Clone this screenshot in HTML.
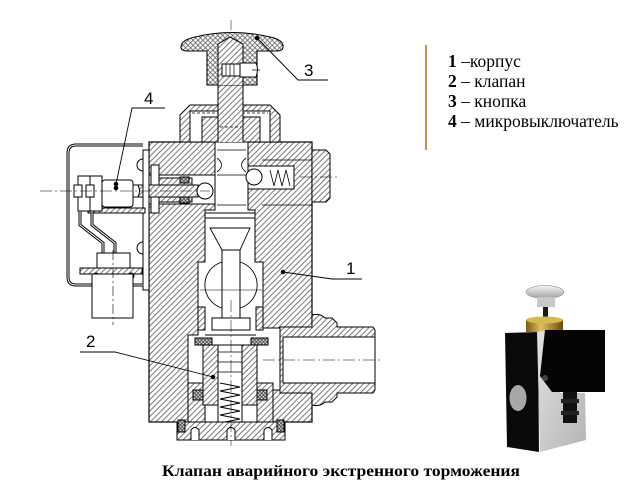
<!DOCTYPE html>
<html><head><meta charset="utf-8"><style>
html,body{margin:0;padding:0;background:#fff;width:624px;height:489px;overflow:hidden}
svg{display:block}
</style></head><body>
<svg width="624" height="489" viewBox="0 0 624 489" xmlns="http://www.w3.org/2000/svg">
<defs>
<pattern id="h" width="4" height="4" patternUnits="userSpaceOnUse" patternTransform="rotate(45)"><rect width="4" height="4" fill="#fff"/><line x1="0.5" y1="0" x2="0.5" y2="4" stroke="#555" stroke-width="0.8"/></pattern>
<pattern id="x" width="3.5" height="3.5" patternUnits="userSpaceOnUse" patternTransform="rotate(45)"><rect width="3.5" height="3.5" fill="#fff"/><path d="M0.5 0V3.5M0 0.5H3.5" stroke="#555" stroke-width="0.7"/></pattern>
<pattern id="xd" width="2.5" height="2.5" patternUnits="userSpaceOnUse" patternTransform="rotate(45)"><rect width="2.5" height="2.5" fill="#ddd"/><path d="M0.5 0V2.5M0 0.5H2.5" stroke="#333" stroke-width="0.7"/></pattern>
<linearGradient id="gface" x1="0" y1="0" x2="1" y2="1"><stop offset="0" stop-color="#e2e2e2"/><stop offset="1" stop-color="#b4b4b4"/></linearGradient>
<linearGradient id="brass" x1="0" y1="0" x2="1" y2="0"><stop offset="0" stop-color="#7a5a10"/><stop offset="0.4" stop-color="#e0c060"/><stop offset="1" stop-color="#6a4a08"/></linearGradient>
<linearGradient id="btn" x1="0" y1="0" x2="0" y2="1"><stop offset="0" stop-color="#f6f6f6"/><stop offset="1" stop-color="#a0a0a0"/></linearGradient>
</defs>

<g stroke="#000" stroke-width="1" fill="none">
<!-- main body -->
<rect x="149" y="142" width="163" height="280" fill="url(#h)" stroke-width="1.2"/>
<path d="M312 150H326L330 154V198L326 202H312Z" fill="url(#h)"/>
<!-- central cavity -->
<path d="M215 142H248V210H255V262H263V328H312V390H273V422H188V335H198V262H205V210H215Z" fill="#fff"/>
<!-- left horizontal bore -->
<rect x="149" y="175" width="66" height="29" fill="#fff"/>
<!-- right horizontal bore -->
<rect x="248" y="166" width="46" height="23" fill="#fff"/>
<path d="M270 170l4 16l4-16l4 16l4-16l4 16" stroke-width="0.8"/>
<circle cx="254" cy="177" r="8" fill="#fff"/>

<!-- left plunger assembly -->
<rect x="151" y="165" width="8" height="48" fill="#fff"/>
<path d="M159 178H192V202H159Z" fill="url(#h)"/>
<rect x="180" y="177" width="9" height="6" fill="url(#xd)"/>
<rect x="180" y="197" width="9" height="6" fill="url(#xd)"/>
<path d="M138 185H198V197H138Q134 191 138 185Z" fill="url(#h)"/>
<circle cx="205" cy="191" r="8" fill="#fff"/>

<!-- spool / stem in bore -->
<path d="M217 150H246M217 158Q226 165 217 172M246 158Q237 165 246 172M217 175H246M217 205H246" stroke-width="0.8"/>
<path d="M205 213H255M205 218H255M210 228H250L240 250H222Z" fill="#fff" stroke-width="0.9"/>
<!-- ball chamber -->
<path d="M222 262A24 24 0 0 0 222 308M240 262A24 24 0 0 1 240 308" stroke-width="0.9"/>
<rect x="222" y="250" width="18" height="70" fill="#fff"/>
<path d="M200 290H262" stroke-width="0.6"/>
<rect x="198" y="307" width="7" height="23" fill="url(#h)"/>
<rect x="256" y="307" width="7" height="23" fill="url(#h)"/>
<path d="M212 318H250V330H212Z" fill="#fff"/>

<!-- valve (part 2) -->
<rect x="195" y="338" width="17" height="7" fill="url(#xd)"/>
<rect x="251" y="338" width="17" height="7" fill="url(#xd)"/>
<path d="M205 335H256" />
<rect x="188" y="383" width="85" height="39" fill="url(#h)"/>
<path d="M203 345H257V405H203Z" fill="url(#h)"/>
<rect x="205" y="405" width="52" height="17" fill="#fff"/>
<rect x="218" y="345" width="24" height="80" fill="#fff"/>
<path d="M218 352H242M218 362H242M218 372H242" stroke-width="0.7"/>
<path d="M220 383l20 4l-20 4l20 4l-20 4l20 4l-20 4l20 4l-20 4l20 4l-20 4" stroke-width="0.9"/>
<rect x="193" y="390" width="10" height="10" fill="url(#xd)"/>
<rect x="257" y="390" width="10" height="10" fill="url(#xd)"/>
<!-- bottom cap -->
<rect x="177" y="422" width="108" height="18" fill="url(#h)"/>
<rect x="178" y="420" width="7" height="12" fill="url(#xd)"/>
<rect x="277" y="420" width="7" height="12" fill="url(#xd)"/>
<path d="M191 440V430Q195 425 199 430V440M227 440V430Q231 425 235 430V440M264 440V430Q268 425 272 430V440" fill="#fff"/>

<!-- fitting -->
<path d="M280 327H312V315Q320 313 325 318H332L337 323V327H373L375 330V390L373 393H337V397L332 402H325Q320 407 312 405V393H280Z" fill="url(#h)"/>
<rect x="283" y="337" width="92" height="46" fill="#fff"/>
<path d="M263 360H380" stroke-width="0.6" stroke-dasharray="12 3 2 3"/>

<!-- right plug body details -->
<path d="M262 160H312M262 205H312" stroke-width="0.8"/>

<!-- cap nut -->
<path d="M180 142V115L190 105H270L280 115V142Z" fill="url(#h)"/>
<rect x="190" y="111" width="80" height="31" fill="#fff"/>
<rect x="202" y="117" width="58" height="25" fill="url(#h)"/>
<path d="M192 113H268" stroke-width="0.7" stroke-dasharray="3 2"/>
<!-- stem -->
<path d="M218 142V44L230 37L243 44V142" fill="url(#h)"/>
<path d="M220 127H241" stroke-width="0.7" stroke-dasharray="3 2"/>

<!-- knob -->
<path d="M181 47Q181 40 195 37Q232 28 270 37Q284 40 283 47Q283 51 276 51H257V85H207V51H188Q181 51 181 47Z" fill="url(#x)" stroke-width="1.1"/>
<path d="M218 85V44L230 37L243 44V85" fill="url(#h)"/>
<rect x="222" y="64" width="18" height="12" fill="#fff"/>
<path d="M240 63H256Q259 69 256 77H240Z" fill="#fff"/>
<path d="M226 64V76M230 64V76M234 64V76M252 70H260" stroke-width="0.7"/>

<!-- body plate and screws -->
<rect x="143" y="150" width="6" height="140" fill="#fff"/>
<path d="M143 159A6 6 0 0 0 143 171Z" fill="#fff"/>
<path d="M143 242A6 6 0 0 0 143 254Z" fill="#fff"/>

<!-- bracket -->
<path d="M143 145H76Q68 145 68 153V277Q68 285 76 285H92M133 285H143" stroke-width="3"/>
<path d="M143 145H76Q68 145 68 153V277Q68 285 76 285H92M133 285H143" stroke="#fff" stroke-width="1"/>

<!-- microswitch -->
<path d="M88 208H145V213H88Z" fill="url(#h)"/>
<rect x="102" y="180" width="31" height="27" rx="3" fill="#fff"/>
<circle cx="116" cy="188" r="1.8" fill="#000"/>
<path d="M133 185H138Q141 191 138 197H133Z" fill="#fff"/>
<rect x="78" y="176" width="12" height="35" fill="#fff"/>
<rect x="90" y="176" width="12" height="35" fill="#fff"/>
<rect x="74" y="185" width="8" height="12" fill="#fff"/>
<rect x="86" y="185" width="8" height="12" fill="#fff"/>
<!-- wires -->
<path d="M80 211V225L103 243V253M92 211V225L115 243V253" stroke-width="3"/>
<path d="M80 211V225L103 243V253M92 211V225L115 243V253" stroke="#fff" stroke-width="1"/>
<!-- connector -->
<rect x="97" y="253" width="33" height="16" fill="#fff"/>
<rect x="80" y="268" width="62" height="6" fill="url(#h)"/>
<circle cx="96" cy="276" r="3" fill="#fff"/>
<circle cx="131" cy="276" r="3" fill="#fff"/>
<rect x="92" y="274" width="41" height="44" fill="#fff"/>
<path d="M113 250V325" stroke-width="0.6" stroke-dasharray="10 3 2 3"/>

<!-- centerlines -->
<path d="M40 191H210M300 177H340" stroke-width="0.6" stroke-dasharray="12 3 2 3"/>
<path d="M231 20V30M231 300V446" stroke-width="0.5" stroke-dasharray="12 3 2 3"/>

<!-- leaders -->
<path d="M257 38L298 80H328" stroke-width="0.9"/>
<circle cx="257" cy="38" r="1.8" fill="#000"/>
<path d="M165 108H132L116 184" stroke-width="0.9"/>
<circle cx="116" cy="184" r="1.8" fill="#000"/>
<path d="M283 272L332 279H362" stroke-width="0.9"/>
<circle cx="283" cy="272" r="1.8" fill="#000"/>
<path d="M80 352H115L213 377" stroke-width="0.9"/>
<circle cx="213" cy="377" r="1.8" fill="#000"/>
</g>

<g font-family="Liberation Sans, sans-serif" font-size="17" fill="#000">
<text x="304" y="76">3</text>
<text x="144" y="104">4</text>
<text x="346" y="274">1</text>
<text x="86" y="347">2</text>
</g>

<!-- legend -->
<line x1="426" y1="45" x2="426" y2="150" stroke="#c89050" stroke-width="2"/>
<g font-family="Liberation Serif, serif" font-size="17.5" fill="#000">
<text x="448" y="67"><tspan font-weight="bold">1</tspan> –корпус</text>
<text x="448" y="87"><tspan font-weight="bold">2</tspan> – клапан</text>
<text x="448" y="107"><tspan font-weight="bold">3</tspan> – кнопка</text>
<text x="448" y="127"><tspan font-weight="bold">4</tspan> – микровыключатель</text>
</g>

<!-- photo -->
<g>
<ellipse cx="545" cy="292" rx="19" ry="6.5" fill="url(#btn)" stroke="#777" stroke-width="0.5"/>
<rect x="537" y="297" width="18" height="10" fill="#c8c8c8"/>
<rect x="543" y="307" width="5" height="12" fill="#1a1a1a"/>
<rect x="526" y="320" width="37" height="12" fill="url(#brass)"/>
<ellipse cx="544.5" cy="320" rx="18.5" ry="3.5" fill="#d8b850"/>
<polygon points="505,333 538,332 539,452 507,447" fill="#0a0a0a"/>
<polygon points="537,332 547,330 560,393 585,393 586,440 540,452" fill="url(#gface)"/>
<polygon points="545,330 605,330 605,392 552,392 540,376" fill="#050505"/>
<circle cx="545" cy="378" r="3" fill="#444"/>
<rect x="563" y="392" width="14" height="31" fill="#111"/>
<rect x="561" y="399" width="18" height="4" fill="#222"/>
<rect x="561" y="411" width="18" height="4" fill="#222"/>
<ellipse cx="518" cy="398" rx="8.5" ry="13" fill="#a8a8a8"/>
</g>

<text x="162" y="476" font-family="Liberation Serif, serif" font-weight="bold" font-size="16" textLength="358" lengthAdjust="spacingAndGlyphs">Клапан аварийного экстренного торможения</text>
</svg>
</body></html>
